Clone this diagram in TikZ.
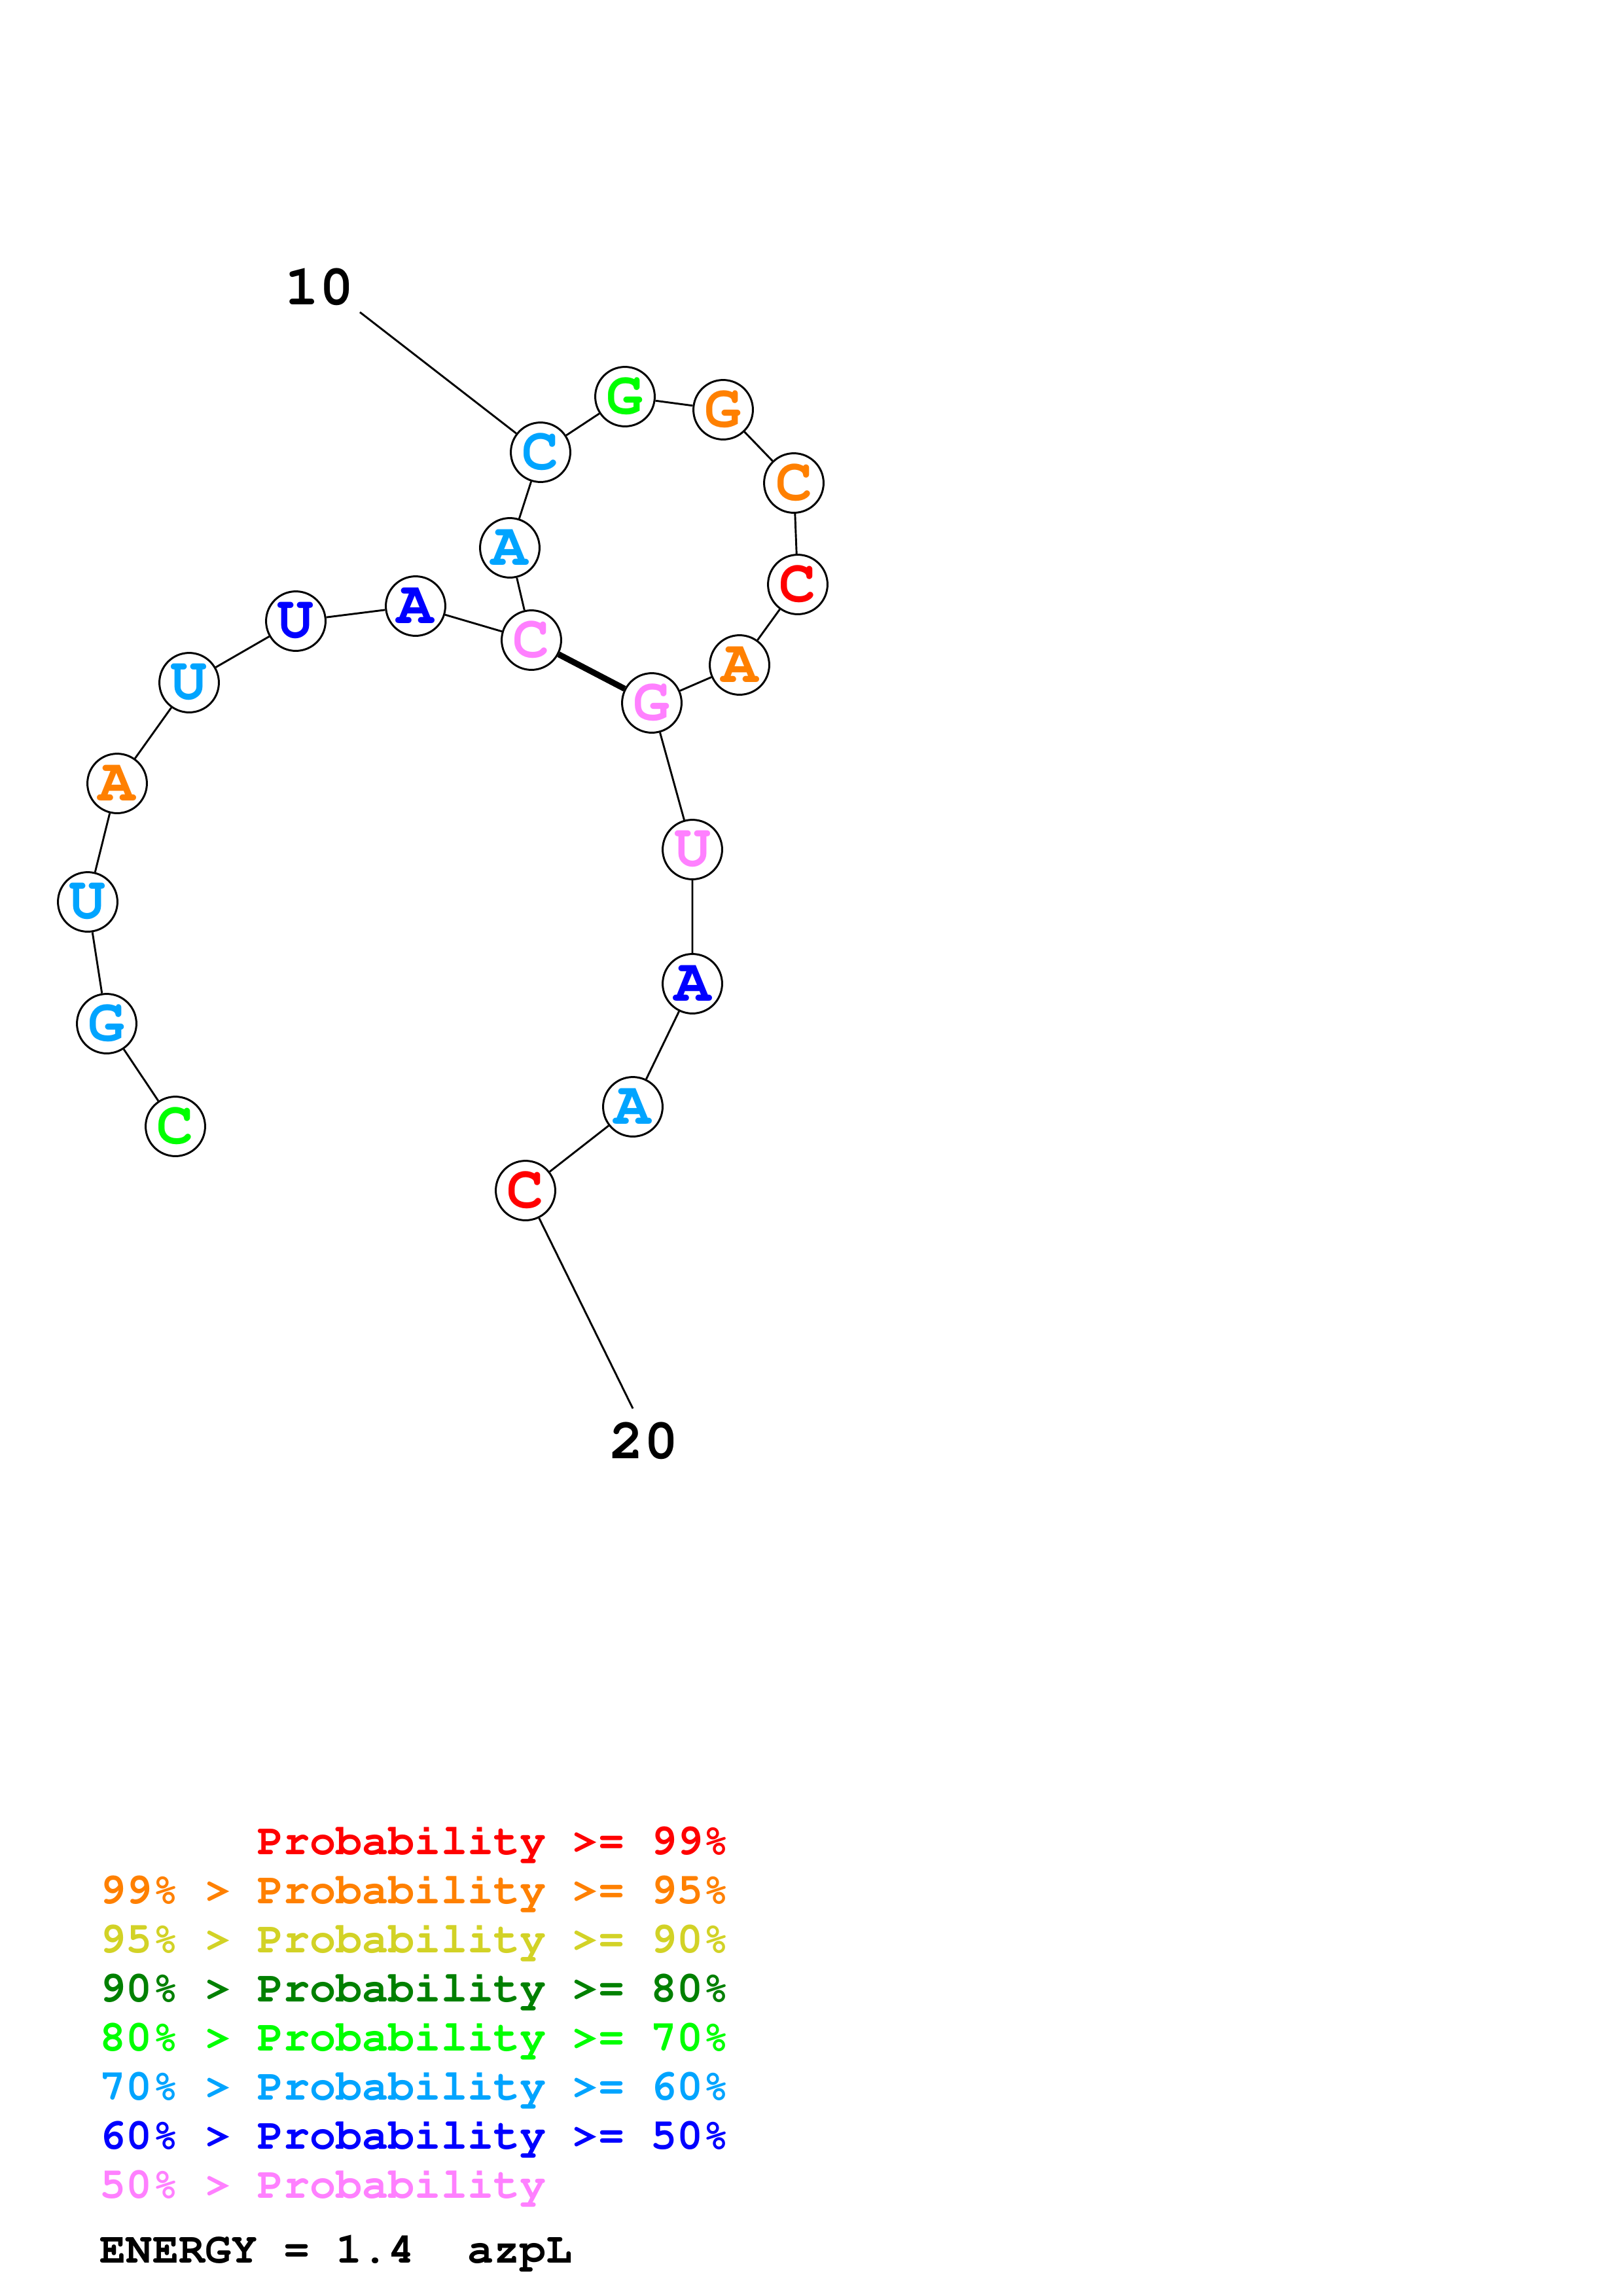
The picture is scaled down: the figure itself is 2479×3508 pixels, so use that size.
\documentclass[tikz,border=0pt]{standalone}
\usepackage[T1]{fontenc}
\renewcommand{\ttdefault}{pcr}
\usepackage{tikz}

\definecolor{pNN}{RGB}{255,0,0}
\definecolor{pNV}{RGB}{255,128,0}
\definecolor{pNZ}{RGB}{210,210,38}
\definecolor{pEZ}{RGB}{0,128,0}
\definecolor{pSZ}{RGB}{0,255,0}
\definecolor{pSX}{RGB}{0,164,255}
\definecolor{pXZ}{RGB}{0,0,255}
\definecolor{pLO}{RGB}{255,128,255}

\tikzset{
	base/.style={circle, draw, fill=white, line width=0.72pt, minimum size=21.9pt, inner sep=0pt,
		font=\ttfamily\bfseries\fontsize{22.5}{22.5}\selectfont},
	bb/.style={line width=0.7pt},
	pair/.style={line width=2.2pt},
	num/.style={font=\ttfamily\bfseries\fontsize{21}{21}\selectfont},
	legend/.style={anchor=base west, inner sep=0pt, font=\ttfamily\bfseries\fontsize{16.1}{16.1}\selectfont}
}

\begin{document}
\begin{tikzpicture}[x=0.008471cm, y=-0.008466cm]
	\useasboundingbox (0,0) rectangle (2479,3508);

	\node[base, text=pSZ] (n1) at (268,1721) {C};
	\node[base, text=pSX] (n2) at (163,1564) {G};
	\node[base, text=pSX] (n3) at (134,1378) {U};
	\node[base, text=pNV] (n4) at (179,1197) {A};
	\node[base, text=pSX] (n5) at (289,1043) {U};
	\node[base, text=pXZ] (n6) at (452,949) {U};
	\node[base, text=pXZ] (n7) at (635,926) {A};
	\node[base, text=pLO] (n8) at (812,978) {C};
	\node[base, text=pSX] (n9) at (779,837) {A};
	\node[base, text=pSX] (n10) at (826,691) {C};
	\node[base, text=pSZ] (n11) at (955,606) {G};
	\node[base, text=pNV] (n12) at (1105,626) {G};
	\node[base, text=pNV] (n13) at (1213,738) {C};
	\node[base, text=pNN] (n14) at (1219,893) {C};
	\node[base, text=pNV] (n15) at (1130,1016) {A};
	\node[base, text=pLO] (n16) at (996,1074) {G};
	\node[base, text=pLO] (n17) at (1058,1298) {U};
	\node[base, text=pXZ] (n18) at (1058,1503) {A};
	\node[base, text=pSX] (n19) at (967,1691) {A};
	\node[base, text=pNN] (n20) at (803,1819) {C};

	\node[num, anchor=base] (lab10) at (488,465) {10};
	\node[num, anchor=base] (lab20) at (984,2228) {20};
	\coordinate (t10) at (550,477);
	\coordinate (t20) at (967,2152);

	\draw[bb] (n1) -- (n2) -- (n3) -- (n4) -- (n5) -- (n6) -- (n7) -- (n8) -- (n9) -- (n10)
		-- (n11) -- (n12) -- (n13) -- (n14) -- (n15) -- (n16) -- (n17) -- (n18) -- (n19) -- (n20);
	\draw[bb] (t10) -- (n10);
	\draw[bb] (t20) -- (n20);
	\draw[pair] (n8) -- (n16);

	\node[legend, text=pNN] (k1) at (152,2833) {\hphantom{99\% > }Probability >= 99\%};
	\node[legend, text=pNV] (k2) at (152,2908) {99\% > Probability >= 95\%};
	\node[legend, text=pNZ] (k3) at (152,2983) {95\% > Probability >= 90\%};
	\node[legend, text=pEZ] (k4) at (152,3058) {90\% > Probability >= 80\%};
	\node[legend, text=pSZ] (k5) at (152,3133) {80\% > Probability >= 70\%};
	\node[legend, text=pSX] (k6) at (152,3208) {70\% > Probability >= 60\%};
	\node[legend, text=pXZ] (k7) at (152,3283) {60\% > Probability >= 50\%};
	\node[legend, text=pLO] (k8) at (152,3358) {50\% > Probability};
	\node[legend] (energy) at (152,3457) {ENERGY = 1.4\ \ azpL};
\end{tikzpicture}
\end{document}
